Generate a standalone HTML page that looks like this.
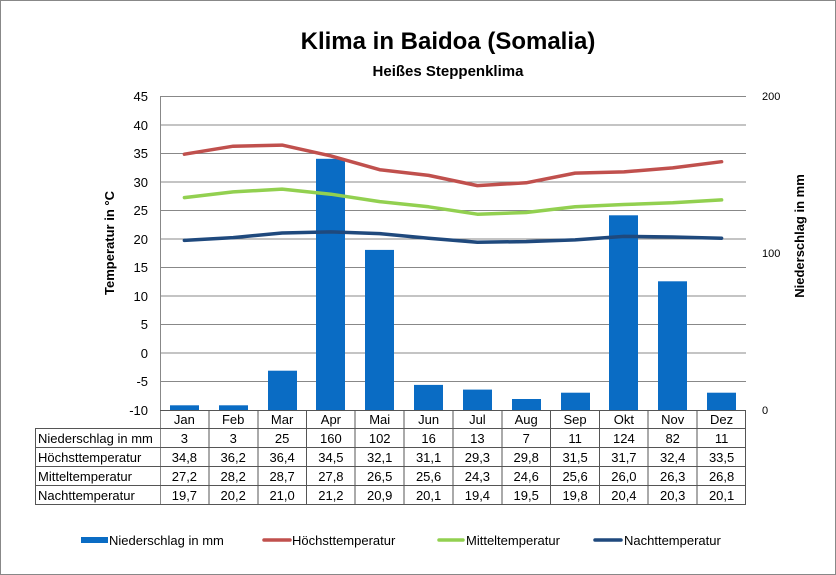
<!DOCTYPE html>
<html><head><meta charset="utf-8"><style>
body{margin:0;background:#fff}
svg{display:block;font-family:"Liberation Sans",Arial,sans-serif}
</style></head><body>
<svg width="836" height="575" viewBox="0 0 836 575" xmlns="http://www.w3.org/2000/svg">
<rect x="0.5" y="0.5" width="835" height="574" fill="#fff" stroke="#888"/>
<text x="448" y="49" text-anchor="middle" font-size="24" font-weight="bold">Klima in Baidoa (Somalia)</text>
<text x="448" y="76" text-anchor="middle" font-size="15" font-weight="bold">Heißes Steppenklima</text>
<g stroke="#888" stroke-width="1">
<line x1="160" y1="96.5" x2="746" y2="96.5"/><line x1="160" y1="125" x2="746" y2="125"/>
<line x1="160" y1="153.5" x2="746" y2="153.5"/><line x1="160" y1="182" x2="746" y2="182"/>
<line x1="160" y1="210.5" x2="746" y2="210.5"/><line x1="160" y1="239" x2="746" y2="239"/>
<line x1="160" y1="267.5" x2="746" y2="267.5"/><line x1="160" y1="296" x2="746" y2="296"/>
<line x1="160" y1="324.5" x2="746" y2="324.5"/><line x1="160" y1="353" x2="746" y2="353"/>
<line x1="160" y1="381.5" x2="746" y2="381.5"/>
<line x1="160.5" y1="96" x2="160.5" y2="504"/>
</g>
<g font-size="13" text-anchor="end">
<text x="148" y="101">45</text><text x="148" y="130">40</text><text x="148" y="158">35</text>
<text x="148" y="187">30</text><text x="148" y="215">25</text><text x="148" y="244">20</text>
<text x="148" y="272">15</text><text x="148" y="301">10</text><text x="148" y="329">5</text>
<text x="148" y="358">0</text><text x="148" y="386">-5</text><text x="148" y="415">-10</text>
</g>
<g font-size="11"><text x="762" y="100">200</text><text x="762" y="257">100</text><text x="762" y="414">0</text></g>
<text transform="translate(114,243) rotate(-90)" text-anchor="middle" font-size="13" font-weight="bold">Temperatur in °C</text>
<text transform="translate(804,236) rotate(-90)" text-anchor="middle" font-size="13" font-weight="bold">Niederschlag in mm</text>
<g fill="#0a6cc4">
<rect x="170" y="405.3" width="29" height="4.7"/><rect x="219" y="405.3" width="29" height="4.7"/>
<rect x="268" y="370.7" width="29" height="39.3"/><rect x="316" y="158.8" width="29" height="251.2"/>
<rect x="365" y="249.9" width="29" height="160.1"/><rect x="414" y="384.9" width="29" height="25.1"/>
<rect x="463" y="389.6" width="29" height="20.4"/><rect x="512" y="399" width="29" height="11"/>
<rect x="561" y="392.7" width="29" height="17.3"/><rect x="609" y="215.3" width="29" height="194.7"/>
<rect x="658" y="281.3" width="29" height="128.7"/><rect x="707" y="392.7" width="29" height="17.3"/>
</g>
<g fill="none" stroke-width="3.5" stroke-linejoin="round" stroke-linecap="round">
<polyline stroke="#c0504d" points="184.4,154.2 233.2,146.2 282.1,145.1 330.9,155.9 379.7,169.7 428.6,175.4 477.4,185.6 526.2,182.8 575.1,173.1 623.9,171.9 672.7,167.9 721.6,161.7"/>
<polyline stroke="#92d050" points="184.4,197.6 233.2,191.9 282.1,189.1 330.9,194.2 379.7,201.6 428.6,206.8 477.4,214.2 526.2,212.5 575.1,206.8 623.9,204.5 672.7,202.8 721.6,199.9"/>
<polyline stroke="#1f497d" points="184.4,240.4 233.2,237.6 282.1,233 330.9,231.9 379.7,233.6 428.6,238.2 477.4,242.2 526.2,241.6 575.1,239.9 623.9,236.4 672.7,237 721.6,238.2"/>
</g>
<g stroke="#555" stroke-width="1">
<line x1="160" y1="410.5" x2="746" y2="410.5"/>
<line x1="35" y1="428.5" x2="746" y2="428.5"/><line x1="35" y1="447.5" x2="746" y2="447.5"/>
<line x1="35" y1="466.5" x2="746" y2="466.5"/><line x1="35" y1="485.5" x2="746" y2="485.5"/>
<line x1="35" y1="504.5" x2="746" y2="504.5"/>
<line x1="35.5" y1="428" x2="35.5" y2="504"/>
<line x1="209" y1="410" x2="209" y2="504"/><line x1="258" y1="410" x2="258" y2="504"/>
<line x1="306.5" y1="410" x2="306.5" y2="504"/><line x1="355" y1="410" x2="355" y2="504"/>
<line x1="404" y1="410" x2="404" y2="504"/><line x1="453" y1="410" x2="453" y2="504"/>
<line x1="502" y1="410" x2="502" y2="504"/><line x1="550.5" y1="410" x2="550.5" y2="504"/>
<line x1="599.5" y1="410" x2="599.5" y2="504"/><line x1="648" y1="410" x2="648" y2="504"/>
<line x1="697" y1="410" x2="697" y2="504"/><line x1="745.5" y1="410" x2="745.5" y2="504"/>
</g>
<g font-size="13">
<text x="38" y="443">Niederschlag in mm</text><text x="38" y="462">Höchsttemperatur</text>
<text x="38" y="481">Mitteltemperatur</text><text x="38" y="500">Nachttemperatur</text>
</g>
<g font-size="13" text-anchor="middle">
<g transform="translate(0,424)"><text x="184.4">Jan</text><text x="233.2">Feb</text><text x="282.1">Mar</text><text x="330.9">Apr</text><text x="379.7">Mai</text><text x="428.6">Jun</text><text x="477.4">Jul</text><text x="526.2">Aug</text><text x="575.1">Sep</text><text x="623.9">Okt</text><text x="672.7">Nov</text><text x="721.6">Dez</text></g>
<g transform="translate(0,443)"><text x="184.4">3</text><text x="233.2">3</text><text x="282.1">25</text><text x="330.9">160</text><text x="379.7">102</text><text x="428.6">16</text><text x="477.4">13</text><text x="526.2">7</text><text x="575.1">11</text><text x="623.9">124</text><text x="672.7">82</text><text x="721.6">11</text></g>
<g transform="translate(0,462)"><text x="184.4">34,8</text><text x="233.2">36,2</text><text x="282.1">36,4</text><text x="330.9">34,5</text><text x="379.7">32,1</text><text x="428.6">31,1</text><text x="477.4">29,3</text><text x="526.2">29,8</text><text x="575.1">31,5</text><text x="623.9">31,7</text><text x="672.7">32,4</text><text x="721.6">33,5</text></g>
<g transform="translate(0,481)"><text x="184.4">27,2</text><text x="233.2">28,2</text><text x="282.1">28,7</text><text x="330.9">27,8</text><text x="379.7">26,5</text><text x="428.6">25,6</text><text x="477.4">24,3</text><text x="526.2">24,6</text><text x="575.1">25,6</text><text x="623.9">26,0</text><text x="672.7">26,3</text><text x="721.6">26,8</text></g>
<g transform="translate(0,500)"><text x="184.4">19,7</text><text x="233.2">20,2</text><text x="282.1">21,0</text><text x="330.9">21,2</text><text x="379.7">20,9</text><text x="428.6">20,1</text><text x="477.4">19,4</text><text x="526.2">19,5</text><text x="575.1">19,8</text><text x="623.9">20,4</text><text x="672.7">20,3</text><text x="721.6">20,1</text></g>
</g>
<rect x="81" y="537" width="27" height="6" fill="#0a6cc4"/>
<line x1="264" y1="540" x2="290" y2="540" stroke="#c0504d" stroke-width="3.5" stroke-linecap="round"/>
<line x1="439" y1="540" x2="463" y2="540" stroke="#92d050" stroke-width="3.5" stroke-linecap="round"/>
<line x1="595" y1="540" x2="621" y2="540" stroke="#1f497d" stroke-width="3.5" stroke-linecap="round"/>
<g font-size="13"><text x="109" y="545">Niederschlag in mm</text><text x="292" y="545">Höchsttemperatur</text><text x="466" y="545">Mitteltemperatur</text><text x="624" y="545">Nachttemperatur</text></g>
</svg>
</body></html>
